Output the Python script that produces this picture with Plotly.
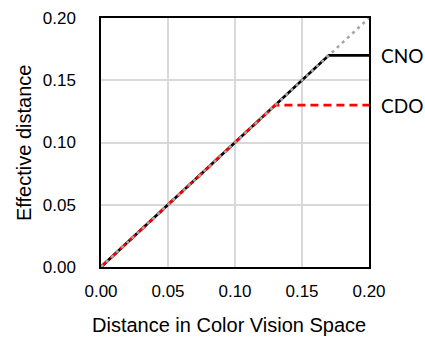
import plotly.graph_objects as go

# Data
diag_x = [0.0, 0.2]
diag_y = [0.0, 0.2]
cno_x = [0.0, 0.17, 0.2]
cno_y = [0.0, 0.17, 0.17]
cdo_x = [0.0, 0.13, 0.2]
cdo_y = [0.0, 0.13, 0.13]
labels = ["CNO", "CDO"]
label_y = [0.17, 0.13]
ticks = [0.0, 0.05, 0.10, 0.15, 0.20]
tick_text = ["0.00", "0.05", "0.10", "0.15", "0.20"]
x_title = "Distance in Color Vision Space"
y_title = "Effective distance"

fig = go.Figure()
fig.add_trace(go.Scatter(x=cno_x, y=cno_y, mode="lines",
                         line=dict(color="black", width=2.75), showlegend=False))
fig.add_trace(go.Scatter(x=cdo_x, y=cdo_y, mode="lines",
                         line=dict(color="#ff0000", width=2.75, dash="8px,5px"), showlegend=False))
fig.add_trace(go.Scatter(x=diag_x, y=diag_y, mode="lines",
                         line=dict(color="#a6a6a6", width=2.5, dash="3px,4px"), showlegend=False))

for t, yv in zip(labels, label_y):
    fig.add_annotation(x=1.0, xref="paper", y=yv, yref="y", text=t, showarrow=False,
                       xanchor="left", xshift=10, font=dict(family="Lato, Liberation Sans", size=19, color="black"))

title_font = dict(family="Liberation Sans, Arial", size=20, color="black")
fig.add_annotation(x=(229 - 101) / 268, xref="paper", y=(267 - 325) / 249, yref="paper",
                   text=x_title, showarrow=False, xanchor="center", yanchor="middle",
                   borderpad=0, font=title_font)
fig.add_annotation(x=(24 - 101) / 268, xref="paper", y=(267 - 143) / 249, yref="paper",
                   text=y_title, showarrow=False, textangle=-90, xanchor="center", yanchor="middle",
                   borderpad=0, font=title_font)

axis_common = dict(range=[0, 0.2], tickvals=ticks, ticktext=tick_text,
                   showgrid=True, gridcolor="#d9d9d9", gridwidth=1.5,
                   showline=True, linecolor="black", linewidth=1.5, mirror=True,
                   zeroline=False, ticks="outside", ticklen=0, automargin=False,
                   tickfont=dict(family="Liberation Sans, Arial", size=17, color="black"))

fig.update_xaxes(**axis_common, ticklabelstandoff=8)
fig.update_yaxes(**axis_common, ticklabelstandoff=20)

fig.update_layout(width=425, height=338, margin=dict(l=101, r=56, t=18, b=71),
                  plot_bgcolor="white", paper_bgcolor="white")
fig.write_html("out.html")
